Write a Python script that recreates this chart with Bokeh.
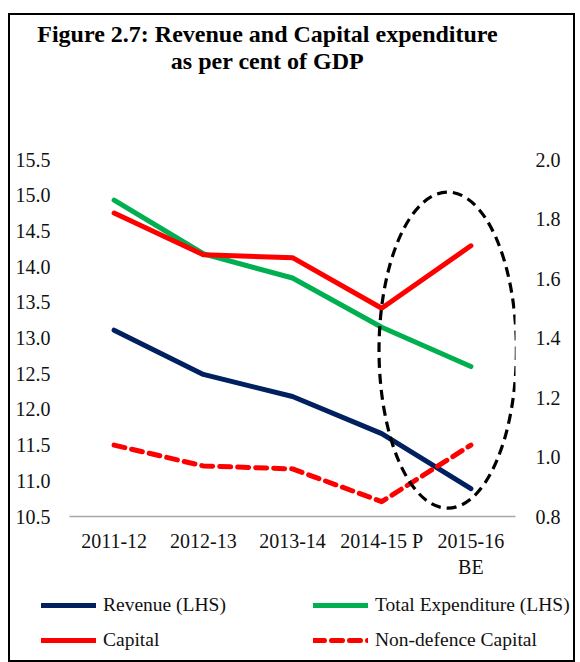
from bokeh.plotting import figure
from bokeh.layouts import column
from bokeh.models import (FactorRange, Range1d, LinearAxis, FixedTicker,
                          PrintfTickFormatter, Legend, LegendItem, Label)
from bokeh.embed import file_html
from bokeh.resources import INLINE

# ---- data ----
years = ["2011-12", "2012-13", "2013-14", "2014-15 P", "2015-16\nBE"]
revenue = [13.11, 12.49, 12.18, 11.66, 10.89]          # LHS
total_expenditure = [14.93, 14.18, 13.84, 13.15, 12.60]  # LHS
capital = [1.82, 1.68, 1.67, 1.50, 1.71]               # RHS
non_defence_capital = [1.04, 0.97, 0.96, 0.85, 1.04]   # RHS
left_ticks = [10.5, 11.0, 11.5, 12.0, 12.5, 13.0, 13.5, 14.0, 14.5, 15.0, 15.5]
right_ticks = [0.8, 1.0, 1.2, 1.4, 1.6, 1.8, 2.0]
title_lines = ["Figure 2.7: Revenue and Capital expenditure", "as per cent of GDP"]

# highlight ellipse (x in category slots, y on LHS scale)
ell_x, ell_y, ell_w, ell_h = 4.24, 12.83, 1.54, 4.43

FONT = "Liberation Serif"
TXT = "#111111"
FS = "20px"
C_REV, C_TOT, C_CAP = "#002060", "#00B050", "#FF0000"
LW = 5
W = 563


def bare(fig):
    fig.outline_line_color = None
    fig.min_border = 0
    fig.xgrid.visible = False
    fig.ygrid.visible = False
    return fig


# ---- header with title ----
p_t = bare(figure(width=W, height=124, output_backend="svg", toolbar_location=None,
                  x_range=Range1d(0, 1), y_range=Range1d(0, 1),
                  x_axis_type=None, y_axis_type=None))
for txt, yy in zip(title_lines, [106, 79]):
    p_t.add_layout(Label(x=257, y=yy, x_units="screen", y_units="screen", text=txt,
                         text_align="center", text_baseline="middle",
                         text_font=FONT, text_font_size="24px",
                         text_font_style="bold", text_color="black"))

# ---- main chart ----
p = figure(x_range=FactorRange(*years), y_range=Range1d(10.5, 15.5),
           width=W, height=441, output_backend="svg", toolbar_location=None,
           min_border_left=59, min_border_right=58, min_border_top=20,
           min_border_bottom=61)
p.extra_y_ranges = {"right": Range1d(0.8, 2.0)}
p.outline_line_color = None
p.xgrid.visible = False
p.ygrid.visible = False

xa = p.xaxis[0]
xa.axis_line_color = "#A6A6A6"
xa.axis_line_width = 1.5
xa.major_tick_line_color = None
xa.minor_tick_line_color = None
xa.major_label_text_font = FONT
xa.major_label_text_font_size = FS
xa.major_label_text_color = TXT
xa.major_label_standoff = 7

ya = p.yaxis[0]
ya.ticker = FixedTicker(ticks=left_ticks)
ya.formatter = PrintfTickFormatter(format="%.1f")
ra = LinearAxis(y_range_name="right", ticker=FixedTicker(ticks=right_ticks),
                formatter=PrintfTickFormatter(format="%.1f"))
p.add_layout(ra, "right")
for ax in (ya, ra):
    ax.axis_line_color = None
    ax.major_tick_line_color = None
    ax.minor_tick_line_color = None
    ax.major_label_text_font = FONT
    ax.major_label_text_font_size = FS
    ax.major_label_text_color = TXT
ya.major_label_standoff = 13
ra.major_label_standoff = 14

r_tot = p.line(years, total_expenditure, line_color=C_TOT, line_width=LW,
               line_cap="round", line_join="round")
r_cap = p.line(years, capital, y_range_name="right", line_color=C_CAP,
               line_width=LW, line_cap="round", line_join="round")
r_rev = p.line(years, revenue, line_color=C_REV, line_width=LW,
               line_cap="round", line_join="round")
r_ndc = p.line(years, non_defence_capital, y_range_name="right",
               line_color=C_CAP, line_width=LW, line_dash="11 7",
               line_cap="round", line_join="round")
p.ellipse(x=[ell_x], y=[ell_y], width=ell_w, height=ell_h, fill_color=None,
          line_color="black", line_width=3.2, line_dash="10 6")

# ---- legend strip (swatches mirror the chart's line styles) ----
p_l = bare(figure(width=W, height=80, output_backend="svg", toolbar_location=None,
                  x_range=Range1d(0, 1), y_range=Range1d(0, 1),
                  x_axis_type=None, y_axis_type=None))
# column-major fill: first column Revenue/Capital, second Total/Non-defence
legend_src = [("Revenue (LHS)", r_rev), ("Capital", r_cap),
              ("Total Expenditure (LHS)", r_tot), ("Non-defence Capital", r_ndc)]
items = []
for name, src in legend_src:
    g = src.glyph
    r = p_l.line([-5, -4], [-5, -5], line_width=g.line_width, line_color=g.line_color,
                 line_dash=g.line_dash, line_cap="round")
    items.append(LegendItem(label=name, renderers=[r]))
legend = Legend(items=items, location=(31, 9), ncols=2)
legend.border_line_color = None
legend.background_fill_alpha = 0
legend.padding = 0
legend.margin = 0
legend.spacing = 13
legend.glyph_width = 55
legend.glyph_height = 20
legend.label_height = 20
legend.label_width = 197
legend.label_standoff = 7
legend.label_text_font = FONT
legend.label_text_font_size = "19.5px"
legend.label_text_color = TXT
p_l.add_layout(legend)

layout = column(column(p_t), p, column(p_l), spacing=0,
                styles={"border": "2px solid black", "margin-top": "13px",
                        "margin-left": "8px"})

open("out.html", "w").write(file_html(layout, INLINE))
